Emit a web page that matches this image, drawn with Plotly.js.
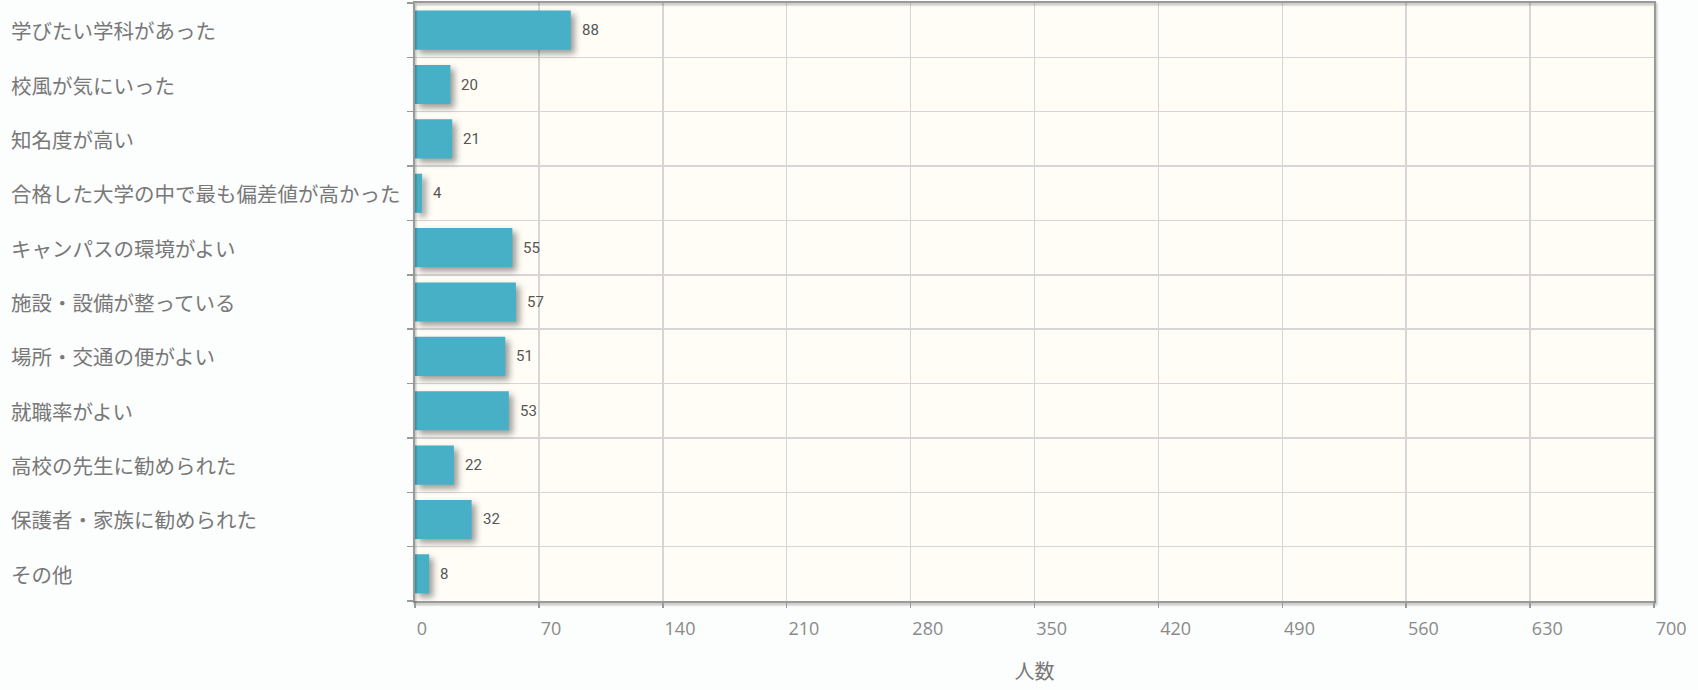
<!DOCTYPE html>
<html><head><meta charset="utf-8">
<script src="https://cdn.plot.ly/plotly-3.0.1.min.js"></script>
<style>
html,body{margin:0;padding:0;background:#fcfdfd;}
.barlayer .point path{filter:drop-shadow(4px 4px 3px rgba(0,0,0,0.38));}
path.xlines-above, path.ylines-above{filter:drop-shadow(1px 2px 1px rgba(0,0,0,0.3));}
</style></head><body>
<div id="chart" style="width:1698px;height:690px;"></div>
<script>
const categories = [
  "学びたい学科があった",
  "校風が気にいった",
  "知名度が高い",
  "合格した大学の中で最も偏差値が高かった",
  "キャンパスの環境がよい",
  "施設・設備が整っている",
  "場所・交通の便がよい",
  "就職率がよい",
  "高校の先生に勧められた",
  "保護者・家族に勧められた",
  "その他"
];
const values = [88, 20, 21, 4, 55, 57, 51, 53, 22, 32, 8];
const xTicks = [0, 70, 140, 210, 280, 350, 420, 490, 560, 630, 700];
const xTitle = "人数";

const yPos = categories.map((c, i) => i);
const boundaries = [-0.5].concat(categories.map((c, i) => i + 0.5));

const trace = {
  type: "bar",
  orientation: "h",
  x: values,
  y: yPos,
  width: 0.72,
  marker: {color: "#47afc6"},
  hoverinfo: "none"
};

const labelAnnots = categories.map((c, i) => ({
  xref: "paper", yref: "y", x: -0.3269, y: i,
  xanchor: "left", yanchor: "middle",
  text: c, showarrow: false, borderpad: 0,
  font: {family: "Noto Sans CJK JP", size: 20.5, color: "#787878"}
}));
const valueAnnots = values.map((v, i) => ({
  xref: "x", yref: "y", x: v, y: i,
  xanchor: "left", yanchor: "middle", xshift: 10,
  text: String(v), showarrow: false, borderpad: 0,
  font: {family: "Roboto", size: 15, color: "#555555"}
}));

const layout = {
  width: 1698, height: 690,
  margin: {l: 415, r: 44, t: 3, b: 89},
  paper_bgcolor: "#fcfdfd",
  plot_bgcolor: "#fffdf6",
  showlegend: false,
  xaxis: {
    range: [0, 700],
    tickvals: xTicks,
    ticktext: xTicks.map(String),
    ticks: "outside", ticklen: 5, tickcolor: "#999999", tickwidth: 1.5,
    ticklabelposition: "outside right",
    ticklabeloverflow: "allow",
    ticklabelstandoff: 10,
    tickfont: {family: "Open Sans", size: 18, color: "#8a8a8a"},
    showgrid: true, gridcolor: "#d6d6d6", gridwidth: 1.5,
    showline: true, mirror: true, linecolor: "#9a9a9a", linewidth: 2,
    zeroline: false,
    title: {text: xTitle, standoff: 26, font: {family: "Noto Sans CJK JP", size: 20, color: "#787878"}}
  },
  yaxis: {
    range: [10.5, -0.5],
    tickvals: boundaries,
    showticklabels: false,
    ticks: "outside", ticklen: 6, tickcolor: "#999999", tickwidth: 1.5,
    showgrid: true, gridcolor: "#d6d6d6", gridwidth: 1.5,
    showline: true, mirror: true, linecolor: "#9a9a9a", linewidth: 2,
    zeroline: false
  },
  annotations: labelAnnots.concat(valueAnnots)
};

Plotly.newPlot("chart", [trace], layout, {displayModeBar: false, staticPlot: true});
</script>
</body></html>
